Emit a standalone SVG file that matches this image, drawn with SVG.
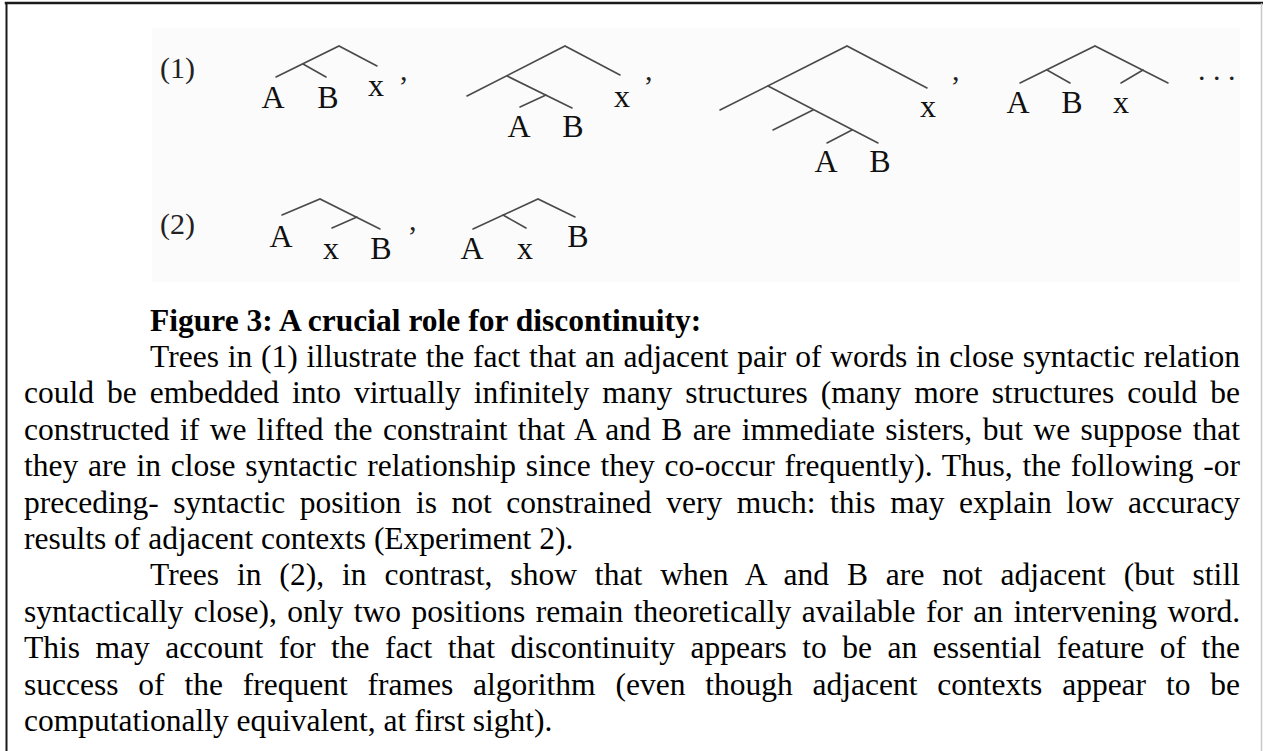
<svg xmlns="http://www.w3.org/2000/svg" width="1263" height="751" viewBox="0 0 1263 751">
<style>
.br{stroke:#4a4a4a;stroke-width:1.6;fill:none;stroke-linecap:round}
.lb{font-family:"Liberation Serif","Times New Roman",serif;font-size:32px;fill:#111;text-anchor:middle}
.num{font-family:"Liberation Serif","Times New Roman",serif;font-size:30px;fill:#222}
.body{font-family:"Liberation Serif","Times New Roman",serif;font-size:31.5px;fill:#000}
.bold{font-weight:bold}
</style>
<rect x="0" y="0" width="1263" height="751" fill="#fff"/>
<rect x="152" y="28" width="1088" height="254" fill="#fbfbfb"/>
<g id="frame" stroke-linecap="square">
<line x1="6" y1="3" x2="1262" y2="3" stroke="#1a1a1a" stroke-width="2.5"/>
<line x1="6.5" y1="3" x2="6.5" y2="751" stroke="#1a1a1a" stroke-width="2"/>
<line x1="1261.5" y1="4" x2="1261.5" y2="751" stroke="#c8c8c8" stroke-width="1.5"/>
</g>
<g id="labels">
<text class="num" x="160" y="78">(1)</text>
<text class="num" x="160" y="234">(2)</text>
<text class="num" x="400" y="80">,</text>
<text class="num" x="645" y="80">,</text>
<text class="num" x="952" y="80">,</text>
<text class="num" x="409" y="230">,</text>
<text class="num" x="1198" y="80">. . .</text>
</g>
<g id="connectors">
<polyline class="br" points="276,77 339,46 377,66"/>
<line class="br" x1="303" y1="64" x2="326" y2="77"/>
<polyline class="br" points="467,96 565,46 620,75"/>
<polyline class="br" points="507,76 572,108"/>
<line class="br" x1="546" y1="95" x2="520" y2="107"/>
<polyline class="br" points="720,110 847,46 927,88"/>
<polyline class="br" points="768,86 878,143"/>
<line class="br" x1="813" y1="110" x2="773" y2="130"/>
<line class="br" x1="852" y1="130" x2="827" y2="143"/>
<polyline class="br" points="1020,83 1095,46 1168,83"/>
<line class="br" x1="1047" y1="70" x2="1070" y2="83"/>
<line class="br" x1="1143" y1="70" x2="1121" y2="83"/>
<polyline class="br" points="282,215 320,199 380,229"/>
<line class="br" x1="357" y1="217" x2="332" y2="228"/>
<polyline class="br" points="473,229 538,199 575,217"/>
<line class="br" x1="503" y1="215" x2="526" y2="228"/>
</g>
<g id="tree1">
<text class="lb" x="273" y="108">A</text>
<text class="lb" x="328" y="108">B</text>
<text class="lb" x="376" y="96">x</text>
</g>
<g id="tree2">
<text class="lb" x="519" y="137">A</text>
<text class="lb" x="573" y="137">B</text>
<text class="lb" x="622" y="107">x</text>
</g>
<g id="tree3">
<text class="lb" x="826" y="172">A</text>
<text class="lb" x="880" y="172">B</text>
<text class="lb" x="928" y="117">x</text>
</g>
<g id="tree4">
<text class="lb" x="1018" y="113">A</text>
<text class="lb" x="1072" y="113">B</text>
<text class="lb" x="1121" y="113">x</text>
</g>
<g id="tree5">
<text class="lb" x="281" y="247">A</text>
<text class="lb" x="331" y="259">x</text>
<text class="lb" x="381" y="259">B</text>
</g>
<g id="tree6">
<text class="lb" x="472" y="259">A</text>
<text class="lb" x="525" y="259">x</text>
<text class="lb" x="578" y="247">B</text>
</g>
<g id="caption" class="body">
<text class="bold" x="150" y="331">Figure 3: A crucial role for discontinuity:</text>
<text x="150" y="367" word-spacing="0.87" textLength="1090" lengthAdjust="spacing">Trees in (1) illustrate the fact that an adjacent pair of words in close syntactic relation</text>
<text x="24" y="403" word-spacing="5.1" textLength="1216" lengthAdjust="spacing">could be embedded into virtually infinitely many structures (many more structures could be</text>
<text x="24" y="440" word-spacing="2.46" textLength="1216" lengthAdjust="spacing">constructed if we lifted the constraint that A and B are immediate sisters, but we suppose that</text>
<text x="24" y="476" word-spacing="1.95" textLength="1216" lengthAdjust="spacing">they are in close syntactic relationship since they co-occur frequently). Thus, the following -or</text>
<text x="24" y="513" word-spacing="6.7" textLength="1216" lengthAdjust="spacing">preceding- syntactic position is not constrained very much: this may explain low accuracy</text>
<text x="24" y="549">results of adjacent contexts (Experiment 2).</text>
<text x="150" y="585" word-spacing="9.85" textLength="1090" lengthAdjust="spacing">Trees in (2), in contrast, show that when A and B are not adjacent (but still</text>
<text x="24" y="622" word-spacing="2.62" textLength="1216" lengthAdjust="spacing">syntactically close), only two positions remain theoretically available for an intervening word.</text>
<text x="24" y="658" word-spacing="7.64" textLength="1216" lengthAdjust="spacing">This may account for the fact that discontinuity appears to be an essential feature of the</text>
<text x="24" y="695" word-spacing="11.96" textLength="1216" lengthAdjust="spacing">success of the frequent frames algorithm (even though adjacent contexts appear to be</text>
<text x="24" y="731">computationally equivalent, at first sight).</text>
</g>
</svg>
